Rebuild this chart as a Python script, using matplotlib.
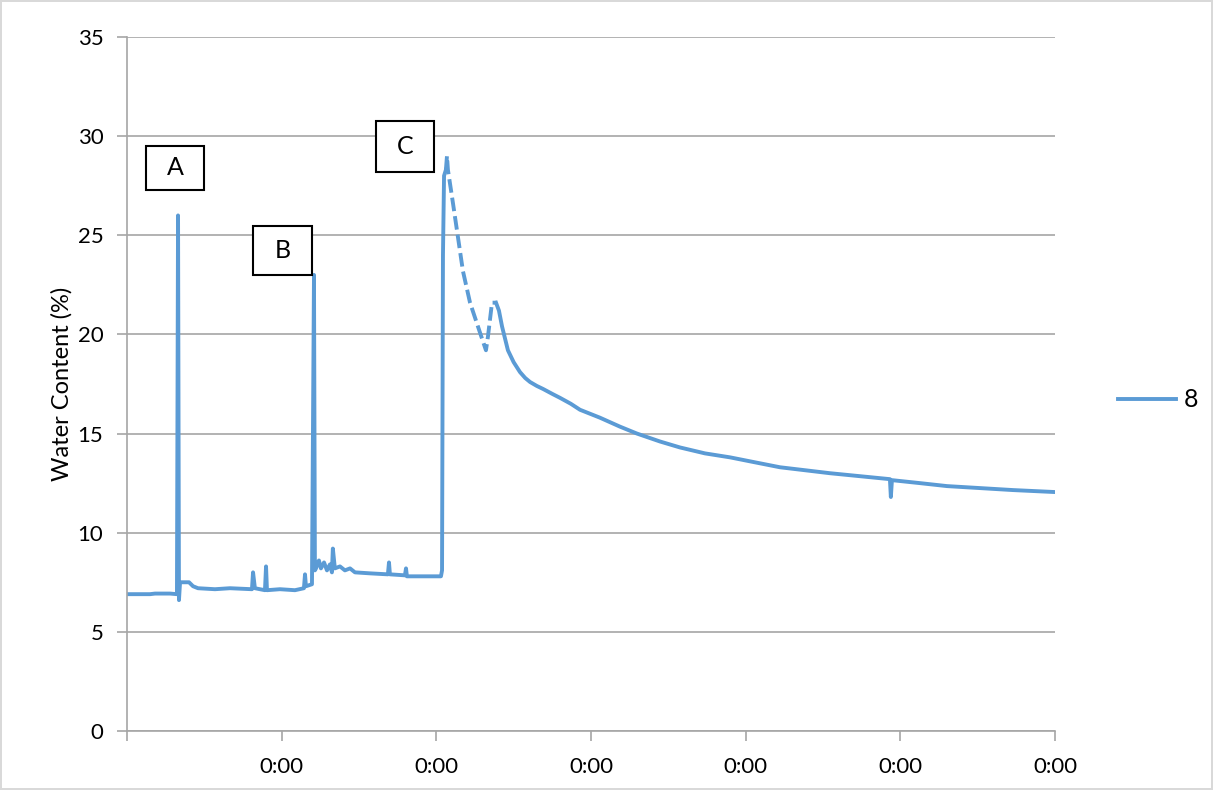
import matplotlib.pyplot as plt
from matplotlib.patches import Rectangle

plt.rcParams['font.family'] = ['Lato', 'DejaVu Sans']

# time axis in days (tick labels all read "0:00"), water content in %
t_before = [0.00, 0.149, 0.181, 0.278, 0.323, 0.330, 0.336, 0.343, 0.401, 0.427,
            0.459, 0.569, 0.666, 0.808, 0.815, 0.827, 0.892, 0.899, 0.905, 0.989,
            1.086, 1.144, 1.151, 1.157, 1.196, 1.209, 1.215, 1.222, 1.241, 1.254,
            1.274, 1.293, 1.312, 1.325, 1.331, 1.344, 1.377, 1.409, 1.442, 1.474,
            1.571, 1.687, 1.694, 1.700, 1.797, 1.804, 1.810, 1.927, 2.030, 2.037,
            2.043, 2.050, 2.062]
wc_before = [6.9, 6.9, 6.93, 6.93, 6.9, 26.0, 6.6, 7.5, 7.5, 7.3,
             7.2, 7.15, 7.2, 7.15, 8.0, 7.2, 7.1, 8.3, 7.1, 7.15,
             7.1, 7.2, 7.9, 7.3, 7.4, 23.0, 8.1, 8.2, 8.6, 8.2,
             8.5, 8.1, 8.4, 8.0, 9.2, 8.2, 8.3, 8.1, 8.2, 8.0,
             7.95, 7.9, 8.5, 7.9, 7.85, 8.2, 7.8, 7.8, 7.8, 8.1,
             24.0, 28.0, 28.3]

# sparse logging right after event C (drawn broken)
t_gap = [2.062, 2.069, 2.075, 2.108, 2.140, 2.172, 2.218, 2.282, 2.321, 2.334,
         2.360, 2.386]
wc_gap = [28.3, 29.0, 28.3, 26.6, 24.9, 23.2, 21.6, 20.1, 19.2, 19.9,
          21.6, 21.6]

t_after = [2.386, 2.405, 2.425, 2.463, 2.500, 2.541, 2.575, 2.606, 2.650, 2.690,
           2.750, 2.800, 2.870, 2.929, 3.058, 3.187, 3.297, 3.446, 3.575, 3.737,
           3.899, 4.060, 4.222, 4.384, 4.545, 4.739, 4.933, 4.939, 4.946, 5.127,
           5.302, 5.515, 5.728, 6.000]
wc_after = [21.6, 21.2, 20.4, 19.2, 18.6, 18.1, 17.8, 17.6, 17.4, 17.25,
            17.0, 16.8, 16.5, 16.2, 15.8, 15.35, 15.0, 14.6, 14.3, 14.0,
            13.8, 13.55, 13.3, 13.15, 13.0, 12.85, 12.7, 11.8, 12.65, 12.5,
            12.35, 12.25, 12.15, 12.05]

x_ticks = [0, 1, 2, 3, 4, 5, 6]
x_labels = ['', '0:00', '0:00', '0:00', '0:00', '0:00', '0:00']
events = ['A', 'B', 'C']

blue = '#5B9BD5'
grey = '#A6A6A6'

fig = plt.figure(figsize=(12.13, 7.90), dpi=100)
fig.patch.set_edgecolor('#D9D9D9')
fig.patch.set_linewidth(1.5)
ax = fig.add_axes([0.1047, 0.0747, 0.765, 0.8785])

ax.plot(t_before, wc_before, color=blue, lw=2.8, label='8')
ax.plot(t_gap, wc_gap, color=blue, lw=2.8, ls=(0, (3.5, 1.3)))
ax.plot(t_after, wc_after, color=blue, lw=2.8)

ax.set_xlim(0, 6)
ax.set_ylim(0, 35)
ax.set_yticks(range(0, 36, 5))
ax.set_xticks(x_ticks)
ax.set_xticklabels(x_labels)
ax.yaxis.grid(True, color=grey, lw=1.2)
ax.set_axisbelow(True)
for s in ['top', 'right']:
    ax.spines[s].set_visible(False)
for s in ['left', 'bottom']:
    ax.spines[s].set_color(grey)
    ax.spines[s].set_linewidth(1.2)
ax.tick_params(axis='both', direction='out', length=7, color=grey, width=1.2,
               labelsize=16)
ax.tick_params(axis='x', pad=12)
ax.tick_params(axis='y', pad=10)
ax.set_ylabel('Water Content (%)', fontsize=17, labelpad=4)

# event label boxes (axes coordinates)
boxes = [(0.0205, 0.7795, 0.0625, 0.0635),
         (0.1358, 0.657, 0.0636, 0.0707),
         (0.2683, 0.8055, 0.0625, 0.0735)]
for name, (bx, by, bw, bh) in zip(events, boxes):
    ax.add_patch(Rectangle((bx, by), bw, bh, transform=ax.transAxes,
                           facecolor='white', edgecolor='black', lw=1.5,
                           clip_on=False, zorder=5))
    ax.text(bx + bw / 2, by + bh / 2, name, transform=ax.transAxes,
            ha='center', va='center', fontsize=18, zorder=6)

ax.legend(loc='center left', bbox_to_anchor=(1.044, 0.477), frameon=False,
          fontsize=18, handlelength=2.3, handletextpad=0.3)

fig.savefig('out.png', dpi=100)
